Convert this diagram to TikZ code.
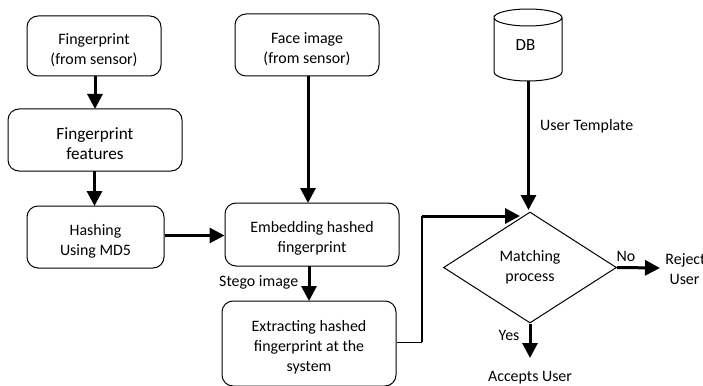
\documentclass[tikz,border=0pt]{standalone}
\usepackage{fontspec}
\setmainfont{Carlito}
\usetikzlibrary{arrows.meta,shapes.geometric}
\tikzset{
  stepbox/.style={draw=black,line width=1pt,rounded corners=11pt,align=center,inner sep=0pt},
  txt/.style={font=\fontsize{15.9}{20}\selectfont,align=center,inner sep=0pt},
  flow/.style={line width=3pt,-{Triangle[length=15pt,width=15pt]}},
}
\newcommand{\boxat}[6]{% name, x1, y1, x2, y2, text
  \node[stepbox,txt,minimum width={#4pt-#2pt},minimum height={#5pt-#3pt}] (#1) at ({(#2+#4)/2},{(#3+#5)/2}) {\parbox{\dimexpr#4pt-#2pt\relax}{\vspace*{8pt}\centering #6}};}
\begin{document}
\begin{tikzpicture}[x=1pt,y=-1pt]
\useasboundingbox (0,0) rectangle (703,385);
\boxat{fp}{27}{16}{161}{76}{Fingerprint\\(from sensor)}
\boxat{feat}{8}{109}{182}{171}{\fontsize{17.2}{20}\selectfont Fingerprint\\features}
\boxat{hash}{27}{206}{164}{268}{Hashing\\Using MD5}
\boxat{face}{235}{14}{379}{76}{Face image\\(from sensor)}
\boxat{emb}{225}{203}{399}{266}{Embedding hashed\\fingerprint}
\boxat{ext}{222}{301}{396}{386}{Extracting hashed\\fingerprint at the\\system}
\node[txt,minimum width=68pt,minimum height=72pt] (db) at (528,45) {\fontsize{17}{20}\selectfont\hspace*{-5pt}DB};
\draw[line width=1pt] (494,17.5) .. controls (494,12.8) and (509.2,9) .. (528,9) .. controls (546.8,9) and (562,12.8) .. (562,17.5) .. controls (562,22.2) and (546.8,26) .. (528,26) .. controls (509.2,26) and (494,22.2) .. (494,17.5) -- (494,72) .. controls (494,77) and (509.2,81) .. (528,81) .. controls (546.8,81) and (562,77) .. (562,72) -- (562,17.5);
\node[draw=black,line width=1pt,diamond,minimum width=173pt,minimum height=111pt,inner sep=0pt,aspect=1.56] (mat) at (530,267.5) {};
\node[txt] (matt) at (530,267.5) {Matching\\process};
\node[txt] (rej) at (685.5,269) {Reject\\\hspace*{-2pt}User};
\node[txt] (acc) at (530,378) {Accepts User};
\node[txt,anchor=west] (ut) at (540,126) {User Template};
\node[txt,anchor=west] (si) at (219,282) {Stego image};
\node[txt] (no) at (626,256) {No};
\node[txt] (yes) at (509,335) {Yes};
\coordinate (yesend) at (530,358);
\coordinate (noend) at (660,268);
\coordinate (bendlow) at (422,342);
\coordinate (bendhigh) at (422,216);
\coordinate (matin) at (520,216);
\draw[flow] (95,76) -- (95,109);
\draw[flow] (94.5,171) -- (94.5,206);
\draw[flow] (hash.east |- 0,235.5) -- (emb.west |- 0,235.5);
\draw[flow] (308,76) -- (308,203);
\draw[flow] (309,266) -- (309,301);
\draw[flow] (528.5,81) -- (528.5,210);
\draw[line width=1pt] (ext.east |- bendlow) -- (bendlow);
\draw[line width=1.6pt] (bendlow) -- (bendhigh);
\draw[flow] (bendhigh) -- (matin);
\draw[flow] (mat.south) -- (yesend);
\draw[flow] (mat.east) -- (noend);
\end{tikzpicture}
\end{document}
